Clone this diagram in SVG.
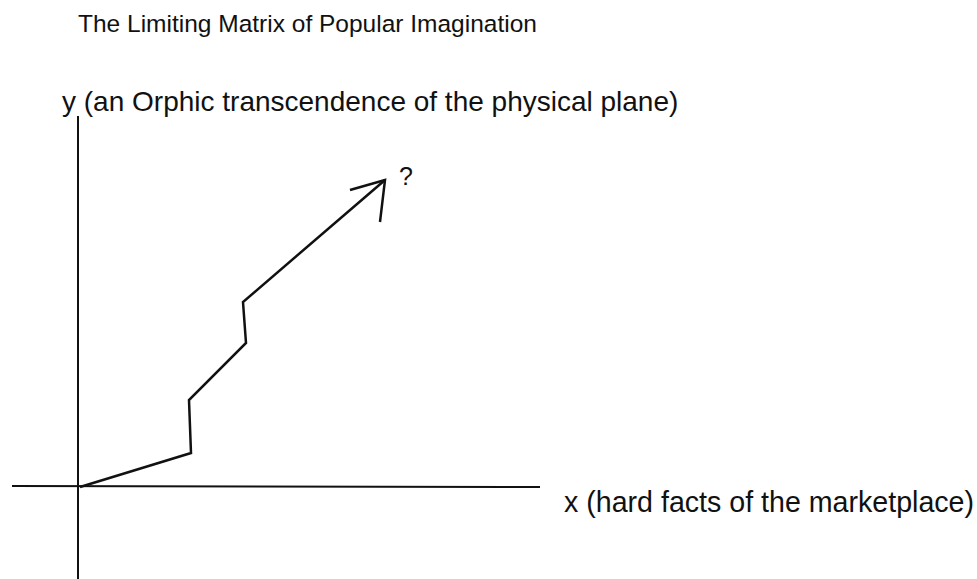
<svg xmlns="http://www.w3.org/2000/svg" width="977" height="579" viewBox="0 0 977 579">
<style>
text{font-family:"Liberation Sans",Arial,sans-serif;fill:#111}
.ax{stroke:#111;stroke-width:2;fill:none}
.ln{stroke:#111;stroke-width:2.5;fill:none;stroke-linejoin:miter}
</style>
<rect width="977" height="579" fill="#fff"/>
<g id="title"><text x="78" y="32" font-size="24.5">The Limiting Matrix of Popular Imagination</text></g>
<g id="axes" class="connectors">
<line class="ax" x1="78" y1="116" x2="78" y2="579"/>
<line class="ax" x1="12" y1="486" x2="540" y2="487"/>
</g>
<g id="ylabel"><text x="62" y="111" font-size="28">y (an Orphic transcendence of the physical plane)</text></g>
<g id="xlabel"><text x="564" y="512" font-size="28.6">x (hard facts of the marketplace)</text></g>
<g id="path">
<polyline class="ln" points="80,487 191,453 189,400 246,343 243,302 385,180"/>
<polyline class="ln" points="350,190 385,180 380,222"/>
</g>
<g id="q"><text x="399" y="185" font-size="25">?</text></g>
</svg>
